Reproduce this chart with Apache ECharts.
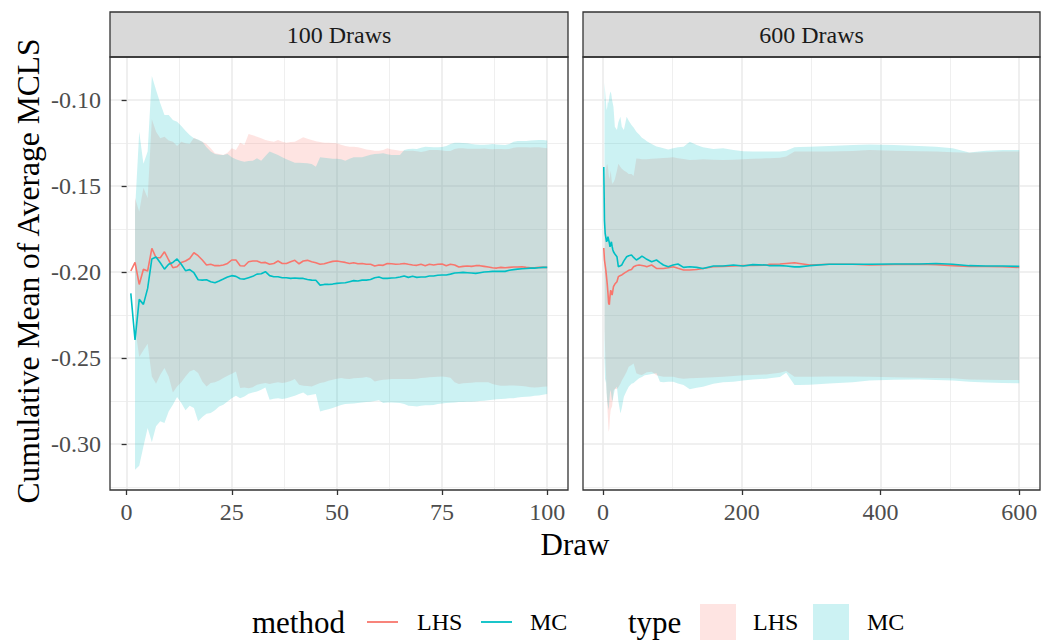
<!DOCTYPE html>
<html><head><meta charset="utf-8">
<script src="https://cdn.jsdelivr.net/npm/echarts@6/dist/echarts.min.js"></script>
<style>html,body{margin:0;padding:0;background:#fff}#c{width:1044px;height:641px}</style>
</head><body><div id="c"></div>
<script>
// ---------- 100 Draws panel ----------
const drawsL = [1,2,3,4,5,6,7,8,9,10,11,12,13,14,15,16,17,18,19,20,21,22,23,24,25,26,27,28,29,30,
31,32,33,34,35,36,37,38,39,40,41,42,43,44,45,46,47,48,49,50,51,52,53,54,55,56,57,58,59,60,
61,62,63,64,65,66,67,68,69,70,71,72,73,74,75,76,77,78,79,80,81,82,83,84,85,86,87,88,89,90,
91,92,93,94,95,96,97,98,99,100];
const ribbonDrawsL = drawsL.slice(1);

const lhsMeanL = [-0.1994,-0.1944,-0.2072,-0.1984,-0.1994,-0.1862,-0.1917,-0.1917,-0.1882,-0.1930,
-0.1975,-0.1969,-0.1944,-0.1936,-0.1921,-0.1888,-0.1905,-0.1930,-0.1959,-0.1955,
-0.1963,-0.1963,-0.1959,-0.1950,-0.1930,-0.1930,-0.1963,-0.1965,-0.1940,-0.1936,
-0.1936,-0.1946,-0.1944,-0.1955,-0.1950,-0.1936,-0.1950,-0.1950,-0.1940,-0.1932,
-0.1952,-0.1936,-0.1932,-0.1940,-0.1946,-0.1955,-0.1952,-0.1944,-0.1938,-0.1936,
-0.1940,-0.1944,-0.1950,-0.1946,-0.1952,-0.1950,-0.1955,-0.1955,-0.1965,-0.1959,
-0.1961,-0.1950,-0.1952,-0.1955,-0.1953,-0.1950,-0.1955,-0.1959,-0.1961,-0.1955,
-0.1963,-0.1955,-0.1959,-0.1955,-0.1953,-0.1963,-0.1955,-0.1959,-0.1971,-0.1967,
-0.1965,-0.1967,-0.1963,-0.1963,-0.1967,-0.1971,-0.1975,-0.1977,-0.1973,-0.1975,
-0.1973,-0.1971,-0.1971,-0.1969,-0.1973,-0.1975,-0.1975,-0.1973,-0.1973,-0.1973];

const mcMeanL = [-0.2124,-0.2395,-0.2159,-0.2188,-0.2095,-0.1924,-0.1913,-0.1946,-0.1983,-0.1955,
-0.1944,-0.1924,-0.1955,-0.1992,-0.1986,-0.2004,-0.2045,-0.2047,-0.2045,-0.2056,
-0.2062,-0.2052,-0.2041,-0.2029,-0.2021,-0.2025,-0.2039,-0.2041,-0.2033,-0.2025,
-0.2012,-0.2010,-0.1998,-0.2021,-0.2027,-0.2027,-0.2033,-0.2033,-0.2037,-0.2035,
-0.2037,-0.2037,-0.2043,-0.2047,-0.2048,-0.2076,-0.2072,-0.2072,-0.2070,-0.2066,
-0.2064,-0.2062,-0.2056,-0.2050,-0.2052,-0.2047,-0.2047,-0.2043,-0.2033,-0.2029,
-0.2037,-0.2037,-0.2035,-0.2033,-0.2029,-0.2023,-0.2031,-0.2025,-0.2031,-0.2029,
-0.2029,-0.2023,-0.2023,-0.2019,-0.2017,-0.2017,-0.2012,-0.2006,-0.2004,-0.2002,
-0.2004,-0.2006,-0.2008,-0.2004,-0.2000,-0.1998,-0.1996,-0.1996,-0.1996,-0.1996,
-0.1990,-0.1986,-0.1983,-0.1981,-0.1979,-0.1977,-0.1977,-0.1975,-0.1973,-0.1973];

// ribbons start at draw 2
const lhsUpL = [-0.157,-0.165,-0.151,-0.157,-0.1112,-0.1184,-0.1223,-0.1213,-0.1236,-0.1242,
-0.1267,-0.1242,-0.1252,-0.1256,-0.1219,-0.1233,-0.1242,-0.1256,-0.1281,-0.1310,
-0.1314,-0.1320,-0.1306,-0.1281,-0.1291,-0.1248,-0.1262,-0.1198,-0.1205,-0.1213,
-0.1223,-0.1233,-0.1238,-0.1242,-0.1233,-0.1242,-0.1248,-0.1244,-0.1242,-0.1229,
-0.1217,-0.1225,-0.1233,-0.1240,-0.1244,-0.1248,-0.1248,-0.1250,-0.1252,-0.1260,
-0.1267,-0.1271,-0.1271,-0.1275,-0.1281,-0.1287,-0.1291,-0.1295,-0.1295,-0.1291,
-0.1281,-0.1287,-0.1291,-0.1295,-0.1295,-0.1295,-0.1295,-0.1298,-0.1302,-0.1298,
-0.1291,-0.1291,-0.1291,-0.1293,-0.1297,-0.1297,-0.1285,-0.1281,-0.1281,-0.1283,
-0.1283,-0.1284,-0.1283,-0.1282,-0.1285,-0.1286,-0.1285,-0.1285,-0.1286,-0.1285,
-0.1277,-0.1275,-0.1274,-0.1275,-0.1276,-0.1275,-0.1274,-0.1277,-0.1281];

const lhsLoL = [-0.232,-0.2494,-0.2455,-0.2417,-0.2607,-0.2649,-0.2597,-0.2558,-0.2607,-0.2700,
-0.2665,-0.2641,-0.2607,-0.2578,-0.2568,-0.2587,-0.2636,-0.2665,-0.2645,-0.2640,
-0.2630,-0.2616,-0.2603,-0.2591,-0.2578,-0.2674,-0.2671,-0.2676,-0.2669,-0.2655,
-0.2649,-0.2645,-0.2651,-0.2645,-0.2641,-0.2645,-0.2641,-0.2634,-0.2622,-0.2655,
-0.2661,-0.2663,-0.2665,-0.2655,-0.2645,-0.2640,-0.2632,-0.2626,-0.2620,-0.2616,
-0.2620,-0.2622,-0.2618,-0.2616,-0.2614,-0.2610,-0.2616,-0.2636,-0.2630,-0.2626,
-0.2624,-0.2622,-0.2622,-0.2622,-0.2622,-0.2622,-0.2622,-0.2620,-0.2616,-0.2614,
-0.2612,-0.2610,-0.2609,-0.2607,-0.2610,-0.2614,-0.2641,-0.2651,-0.2647,-0.2645,
-0.2643,-0.2641,-0.2640,-0.2640,-0.2641,-0.2651,-0.2657,-0.2661,-0.2661,-0.2659,
-0.2659,-0.2661,-0.2663,-0.2665,-0.2669,-0.2671,-0.2669,-0.2667,-0.2665];

const mcUpL = [-0.164,-0.1184,-0.1370,-0.1300,-0.0860,-0.0942,-0.1019,-0.1087,-0.1087,-0.1116,
-0.1126,-0.1151,-0.1178,-0.1203,-0.1223,-0.1229,-0.1242,-0.1275,-0.1300,-0.1314,
-0.1318,-0.1320,-0.1314,-0.1333,-0.1345,-0.1353,-0.1359,-0.1355,-0.1353,-0.1339,
-0.1353,-0.1326,-0.1300,-0.1310,-0.1320,-0.1333,-0.1345,-0.1355,-0.1364,-0.1364,
-0.1366,-0.1368,-0.1372,-0.1388,-0.1333,-0.1335,-0.1339,-0.1341,-0.1341,-0.1345,
-0.1353,-0.1341,-0.1333,-0.1333,-0.1333,-0.1326,-0.1318,-0.1314,-0.1312,-0.1310,
-0.1316,-0.1320,-0.1320,-0.1320,-0.1291,-0.1285,-0.1283,-0.1285,-0.1277,-0.1271,
-0.1273,-0.1275,-0.1275,-0.1273,-0.1267,-0.1256,-0.1248,-0.1248,-0.1250,-0.1252,
-0.1256,-0.1258,-0.1260,-0.1260,-0.1258,-0.1256,-0.1258,-0.1260,-0.1262,-0.1256,
-0.1242,-0.1238,-0.1238,-0.1238,-0.1236,-0.1234,-0.1233,-0.1233,-0.1236];

const mcLoL = [-0.3149,-0.3126,-0.3014,-0.2907,-0.2990,-0.2897,-0.2868,-0.2878,-0.2810,-0.2771,
-0.2727,-0.2762,-0.2804,-0.2777,-0.2791,-0.2868,-0.2843,-0.2824,-0.2820,-0.2804,
-0.2781,-0.2771,-0.2752,-0.2733,-0.2719,-0.2733,-0.2723,-0.2707,-0.2700,-0.2694,
-0.2684,-0.2671,-0.2742,-0.2736,-0.2733,-0.2738,-0.2733,-0.2727,-0.2719,-0.2709,
-0.2700,-0.2717,-0.2713,-0.2709,-0.2810,-0.2804,-0.2797,-0.2791,-0.2781,-0.2773,
-0.2767,-0.2766,-0.2764,-0.2762,-0.2758,-0.2756,-0.2754,-0.2750,-0.2746,-0.2762,
-0.2758,-0.2758,-0.2760,-0.2762,-0.2767,-0.2777,-0.2779,-0.2781,-0.2777,-0.2775,
-0.2775,-0.2773,-0.2767,-0.2764,-0.2762,-0.2760,-0.2758,-0.2756,-0.2756,-0.2754,
-0.2754,-0.2752,-0.2750,-0.2748,-0.2746,-0.2742,-0.2740,-0.2738,-0.2736,-0.2734,
-0.2733,-0.2729,-0.2727,-0.2725,-0.2723,-0.2719,-0.2717,-0.2713,-0.2709];

// ---------- 600 Draws panel (sampled draws) ----------
const drawsR = [1,2,3,4,5,6,7,8,9,10,
11,12,13,14,15,17,20,22,25,27,
30,34,37,41,44,48,52,56,60,63,
70,77,82,87,94,101,108,116,125,135,
144,159,173,188,202,216,235,240,255,264,
276,283,298,326,360,384,420,456,480,504,
528,552,576,600];
const ribbonDrawsR = drawsR.slice(1);

const lhsMeanR = [-0.186,-0.193,-0.196,-0.199,-0.203,-0.207,-0.212,-0.218,-0.219,-0.214,
-0.2105,-0.212,-0.2134,-0.211,-0.2085,-0.207,-0.2056,-0.2027,-0.2020,-0.2017,
-0.2008,-0.1998,-0.1990,-0.1985,-0.1969,-0.1962,-0.1959,-0.1962,-0.1965,-0.1969,
-0.1959,-0.1979,-0.1979,-0.1979,-0.1975,-0.1969,-0.1978,-0.1988,-0.1988,-0.1985,
-0.1979,-0.1969,-0.1967,-0.1965,-0.1962,-0.1961,-0.1960,-0.1955,-0.1953,-0.1950,
-0.1946,-0.1950,-0.1959,-0.1955,-0.1955,-0.1959,-0.1956,-0.1955,-0.1957,-0.1963,
-0.1967,-0.1968,-0.1969,-0.1973];

const mcMeanR = [-0.139,-0.170,-0.1775,-0.180,-0.1824,-0.181,-0.1795,-0.1795,-0.183,-0.1853,
-0.184,-0.1824,-0.185,-0.187,-0.1882,-0.1895,-0.1911,-0.1969,-0.1963,-0.1959,
-0.1935,-0.1911,-0.1905,-0.1901,-0.1915,-0.1930,-0.1920,-0.1907,-0.1918,-0.1926,
-0.1940,-0.1930,-0.1945,-0.1959,-0.1969,-0.1959,-0.1953,-0.1973,-0.1969,-0.1973,
-0.1979,-0.1965,-0.1965,-0.1959,-0.1965,-0.1957,-0.1959,-0.1963,-0.1963,-0.1965,
-0.1970,-0.1970,-0.1963,-0.1955,-0.1955,-0.1955,-0.1953,-0.1953,-0.1950,-0.1955,
-0.1963,-0.1965,-0.1965,-0.1967];

const lhsUpR = [-0.153,-0.146,-0.141,-0.138,-0.137,-0.139,-0.143,-0.146,-0.144,
-0.141,-0.145,-0.149,-0.148,-0.148,-0.146,-0.141,-0.137,-0.139,-0.140,
-0.141,-0.142,-0.143,-0.143,-0.1442,-0.134,-0.1342,-0.1345,-0.1345,-0.1345,
-0.1342,-0.134,-0.1339,-0.1337,-0.1335,-0.1333,-0.1338,-0.1343,-0.1349,-0.1347,
-0.1345,-0.1347,-0.1349,-0.1347,-0.1345,-0.1342,-0.1339,-0.1339,-0.1335,-0.1329,
-0.1300,-0.1300,-0.1300,-0.1300,-0.1296,-0.1291,-0.1295,-0.1298,-0.1300,-0.1303,
-0.1306,-0.1303,-0.1300,-0.1300];

const lhsLoR = [-0.233,-0.246,-0.257,-0.268,-0.277,-0.285,-0.293,-0.291,-0.284,
-0.280,-0.279,-0.278,-0.274,-0.269,-0.268,-0.268,-0.267,-0.265,-0.263,
-0.261,-0.258,-0.255,-0.254,-0.2531,-0.2589,-0.2595,-0.2599,-0.2590,-0.2583,
-0.2579,-0.2600,-0.2605,-0.2609,-0.2609,-0.2609,-0.2616,-0.2620,-0.2618,-0.2616,
-0.2614,-0.2612,-0.2609,-0.2605,-0.2600,-0.2598,-0.2595,-0.2593,-0.2585,-0.2575,
-0.2609,-0.2609,-0.2609,-0.2607,-0.2607,-0.2609,-0.2612,-0.2614,-0.2616,-0.2618,
-0.2624,-0.2626,-0.2628,-0.2628];

const mcUpR = [-0.090,-0.095,-0.100,-0.106,-0.104,-0.100,-0.102,-0.098,-0.096,
-0.095,-0.097,-0.100,-0.102,-0.104,-0.1155,-0.1174,-0.113,-0.1097,-0.1155,
-0.1174,-0.1097,-0.112,-0.1145,-0.116,-0.1184,-0.120,-0.122,-0.123,-0.124,
-0.1255,-0.127,-0.1275,-0.128,-0.1287,-0.128,-0.1275,-0.1271,-0.1242,-0.1262,
-0.1275,-0.1285,-0.1281,-0.1291,-0.1298,-0.1300,-0.1300,-0.1300,-0.1300,-0.1295,
-0.1275,-0.1273,-0.1271,-0.1268,-0.1262,-0.1258,-0.1262,-0.1267,-0.1272,-0.1281,
-0.1305,-0.1295,-0.1291,-0.1291];

const mcLoR = [-0.250,-0.2647,-0.262,-0.270,-0.275,-0.278,-0.2802,-0.275,-0.270,
-0.2686,-0.272,-0.275,-0.2744,-0.272,-0.268,-0.2667,-0.275,-0.2822,-0.279,
-0.2725,-0.269,-0.2667,-0.265,-0.2645,-0.263,-0.2618,-0.261,-0.260,-0.2599,
-0.2592,-0.2589,-0.2638,-0.2640,-0.2638,-0.2638,-0.2648,-0.2657,-0.2682,-0.2672,
-0.2667,-0.2650,-0.2640,-0.2638,-0.2630,-0.2625,-0.2620,-0.2618,-0.2610,-0.2585,
-0.2657,-0.2657,-0.2655,-0.2648,-0.2640,-0.2630,-0.2626,-0.2624,-0.2628,-0.2630,
-0.2638,-0.2642,-0.2645,-0.2647];

// ---------- axes / labels ----------
const panelTitles = ['100 Draws', '600 Draws'];
const xTicksL = [0, 25, 50, 75, 100];
const xMinorL = [12.5, 37.5, 62.5, 87.5];
const xTicksR = [0, 200, 400, 600];
const xMinorR = [100, 300, 500];
const yTicks = [-0.30, -0.25, -0.20, -0.15, -0.10];
const yMinor = [-0.325, -0.275, -0.225, -0.175, -0.125];
const xTitle = 'Draw';
const yTitle = 'Cumulative Mean of Average MCLS';
const methodTitle = 'method';
const typeTitle = 'type';
const groups = ['LHS', 'MC'];

const FONT = "'Liberation Serif', 'Times New Roman', serif";
const COL_LHS = '#F8766D', COL_MC = '#00BFC4';
const FILL_LHS = 'rgba(248,118,109,0.2)', FILL_MC = 'rgba(0,191,196,0.2)';
const GRIDC = '#EBEBEB';

const P = { top: 57, bottom: 490, L: {x0: 110, x1: 568}, R: {x0: 583, x1: 1040} };

function pairs(xs, ys) { return xs.map((x, i) => [x, ys[i]]); }

function xAxis(grid, min, max, ticks, major) {
  return {
    type: 'value', gridIndex: grid, min: min, max: max, position: 'bottom',
    axisLine: { show: false },
    axisTick: { show: major, customValues: ticks, length: 5, lineStyle: { color: '#333333', width: 1.3 } },
    axisLabel: { show: major, customValues: ticks, color: '#4D4D4D', fontFamily: FONT, fontSize: 24, margin: 10,
      formatter: v => String(v) },
    splitLine: { show: true, lineStyle: { color: GRIDC, width: major ? 1.6 : 0.8 } }
  };
}
function yAxis(grid, ticks, major, labels) {
  return {
    type: 'value', gridIndex: grid, min: -0.3267, max: -0.0750, position: 'left',
    axisLine: { show: false },
    axisTick: { show: major && labels, customValues: ticks, length: 5, lineStyle: { color: '#333333', width: 1.3 } },
    axisLabel: { show: major && labels, customValues: ticks, color: '#4D4D4D', fontFamily: FONT, fontSize: 24, margin: 9,
      formatter: v => v.toFixed(2) },
    splitLine: { show: true, lineStyle: { color: GRIDC, width: major ? 1.6 : 0.8 } }
  };
}

// ribbon drawn as one polygon through the axes' coordinate mapping
function ribbon(xi, yi, xs, up, lo, fill) {
  return {
    type: 'custom', xAxisIndex: xi, yAxisIndex: yi, z: 1, silent: true, clip: true, animation: false,
    data: xs.map((x, i) => [x, lo[i], up[i]]),
    encode: { x: 0, y: [1, 2] },
    renderItem: function (params, api) {
      if (params.dataIndex !== 0) return null;
      const pts = [];
      for (let i = 0; i < xs.length; i++) pts.push(api.coord([xs[i], up[i]]));
      for (let i = xs.length - 1; i >= 0; i--) pts.push(api.coord([xs[i], lo[i]]));
      return { type: 'polygon', shape: { points: pts }, style: { fill: fill, stroke: 'none' } };
    }
  };
}
function meanLine(xi, yi, xs, ys, color) {
  return { type: 'line', xAxisIndex: xi, yAxisIndex: yi, data: pairs(xs, ys), symbol: 'none',
    lineStyle: { color: color, width: 1.6 }, z: 3, silent: true, animation: false };
}

function txt(x, y, text, size, color, align, rot) {
  return { type: 'text', x: x, y: y, rotation: rot || 0, z: 200,
    style: { text: text, font: size + 'px ' + FONT, fill: color,
      align: align || 'center', verticalAlign: 'middle', textAlign: align || 'center', textVerticalAlign: 'middle' } };
}

const graphics = [];
[P.L, P.R].forEach((p, i) => {
  graphics.push({ type: 'rect', z: 150, shape: { x: p.x0, y: 12, width: p.x1 - p.x0, height: P.top - 12 },
    style: { fill: '#D9D9D9', stroke: '#333333', lineWidth: 1.3 } });
  graphics.push(txt((p.x0 + p.x1) / 2, 35, panelTitles[i], 24, '#1A1A1A'));
  graphics.push({ type: 'rect', z: 150, shape: { x: p.x0, y: P.top, width: p.x1 - p.x0, height: P.bottom - P.top },
    style: { fill: 'none', stroke: '#333333', lineWidth: 1.3 } });
});
graphics.push(txt((P.L.x0 + P.R.x1) / 2, 544, xTitle, 31, '#000000'));
graphics.push(txt(28, 271, yTitle, 31.5, '#000000', 'center', Math.PI / 2));
const LY = 622;
graphics.push(txt(252, LY, methodTitle, 31, '#000000', 'left'));
graphics.push({ type: 'line', z: 200, shape: { x1: 367, y1: LY, x2: 398, y2: LY }, style: { stroke: COL_LHS, lineWidth: 1.8 } });
graphics.push(txt(417, LY, groups[0], 24, '#000000', 'left'));
graphics.push({ type: 'line', z: 200, shape: { x1: 481, y1: LY, x2: 512, y2: LY }, style: { stroke: COL_MC, lineWidth: 1.8 } });
graphics.push(txt(530, LY, groups[1], 24, '#000000', 'left'));
graphics.push(txt(628, LY, typeTitle, 31, '#000000', 'left'));
graphics.push({ type: 'rect', z: 200, shape: { x: 700, y: 604, width: 36, height: 36 }, style: { fill: FILL_LHS } });
graphics.push(txt(753, LY, groups[0], 24, '#000000', 'left'));
graphics.push({ type: 'rect', z: 200, shape: { x: 813, y: 604, width: 36, height: 36 }, style: { fill: FILL_MC } });
graphics.push(txt(867, LY, groups[1], 24, '#000000', 'left'));

const option = {
  animation: false,
  backgroundColor: '#ffffff',
  grid: [
    { left: P.L.x0, top: P.top, width: P.L.x1 - P.L.x0, height: P.bottom - P.top, containLabel: false },
    { left: P.R.x0, top: P.top, width: P.R.x1 - P.R.x0, height: P.bottom - P.top, containLabel: false }
  ],
  xAxis: [
    xAxis(0, -3.95, 104.95, xTicksL, true),
    xAxis(0, -3.95, 104.95, xMinorL, false),
    xAxis(1, -28.95, 629.95, xTicksR, true),
    xAxis(1, -28.95, 629.95, xMinorR, false)
  ],
  yAxis: [
    yAxis(0, yTicks, true, true),
    yAxis(0, yMinor, false, false),
    yAxis(1, yTicks, true, false),
    yAxis(1, yMinor, false, false)
  ],
  series: [
    ribbon(0, 0, ribbonDrawsL, lhsUpL, lhsLoL, FILL_LHS),
    ribbon(0, 0, ribbonDrawsL, mcUpL, mcLoL, FILL_MC),
    meanLine(0, 0, drawsL, lhsMeanL, COL_LHS),
    meanLine(0, 0, drawsL, mcMeanL, COL_MC),
    ribbon(2, 2, ribbonDrawsR, lhsUpR, lhsLoR, FILL_LHS),
    ribbon(2, 2, ribbonDrawsR, mcUpR, mcLoR, FILL_MC),
    meanLine(2, 2, drawsR, lhsMeanR, COL_LHS),
    meanLine(2, 2, drawsR, mcMeanR, COL_MC)
  ],
  graphic: graphics
};

const chart = echarts.init(document.getElementById('c'), null, { renderer: 'svg' });
chart.setOption(option);
</script>
</body></html>
